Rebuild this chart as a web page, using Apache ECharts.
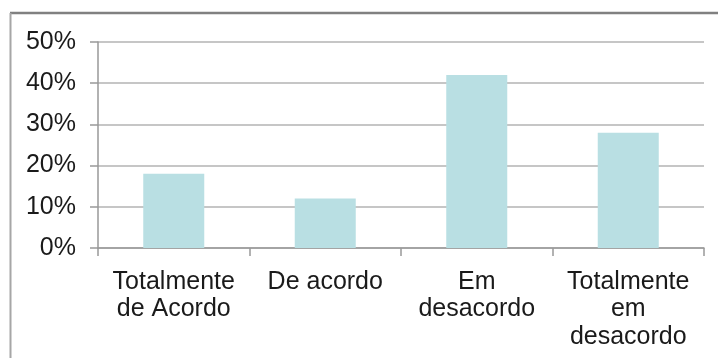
<!DOCTYPE html>
<html>
<head>
<meta charset="utf-8">
<script src="https://cdn.jsdelivr.net/npm/echarts@6/dist/echarts.min.js"></script>
<style>
  html, body { margin: 0; padding: 0; background: #fff; }
  #chart { width: 718px; height: 358px; }
</style>
</head>
<body>
<div id="chart"></div>
<script>
// Survey answers: share of respondents per level of agreement
const categories = ['Totalmente\nde Acordo', 'De acordo', 'Em\ndesacordo', 'Totalmente\nem\ndesacordo'];
const shares = [18, 12, 42, 28];
const yTicks = [0, 10, 20, 30, 40, 50];

const chart = echarts.init(document.getElementById('chart'), null, { renderer: 'canvas' });

chart.setOption({
  animation: false,
  backgroundColor: '#ffffff',
  textStyle: { fontFamily: 'Liberation Sans, Arial, sans-serif' },
  graphic: [
    // outer frame: top and left edges
    { type: 'line', shape: { x1: 10, y1: 13, x2: 718, y2: 13 }, style: { stroke: '#808080', lineWidth: 2.5 } },
    { type: 'line', shape: { x1: 10.5, y1: 13, x2: 10.5, y2: 358 }, style: { stroke: '#a6a6a6', lineWidth: 2 } }
  ],
  grid: { left: 98, right: 14, top: 42, bottom: 110, containLabel: false },
  xAxis: {
    type: 'category',
    data: categories,
    axisLine: { lineStyle: { color: '#999999', width: 1.5 } },
    axisTick: { show: true, alignWithLabel: false, length: 8, lineStyle: { color: '#999999', width: 1.5 } },
    axisLabel: {
      color: '#1a1a1a', fontSize: 25, lineHeight: 27.5, margin: 20, interval: 0,
      fontFamily: 'Liberation Sans, Arial, sans-serif'
    }
  },
  yAxis: {
    type: 'value',
    min: yTicks[0],
    max: yTicks[yTicks.length - 1],
    interval: 10,
    axisLine: { show: true, lineStyle: { color: '#999999', width: 1.5 } },
    axisTick: { show: true, length: 8, lineStyle: { color: '#999999', width: 1.5 } },
    splitLine: { show: true, lineStyle: { color: '#b3b3b3', width: 1.5 } },
    axisLabel: {
      color: '#1a1a1a', fontSize: 25, margin: 22,
      fontFamily: 'Liberation Sans, Arial, sans-serif',
      formatter: v => v + '%'
    }
  },
  series: [{
    type: 'bar',
    data: shares,
    barWidth: 61,
    itemStyle: { color: '#b9dfe3' }
  }]
});
</script>
</body>
</html>
